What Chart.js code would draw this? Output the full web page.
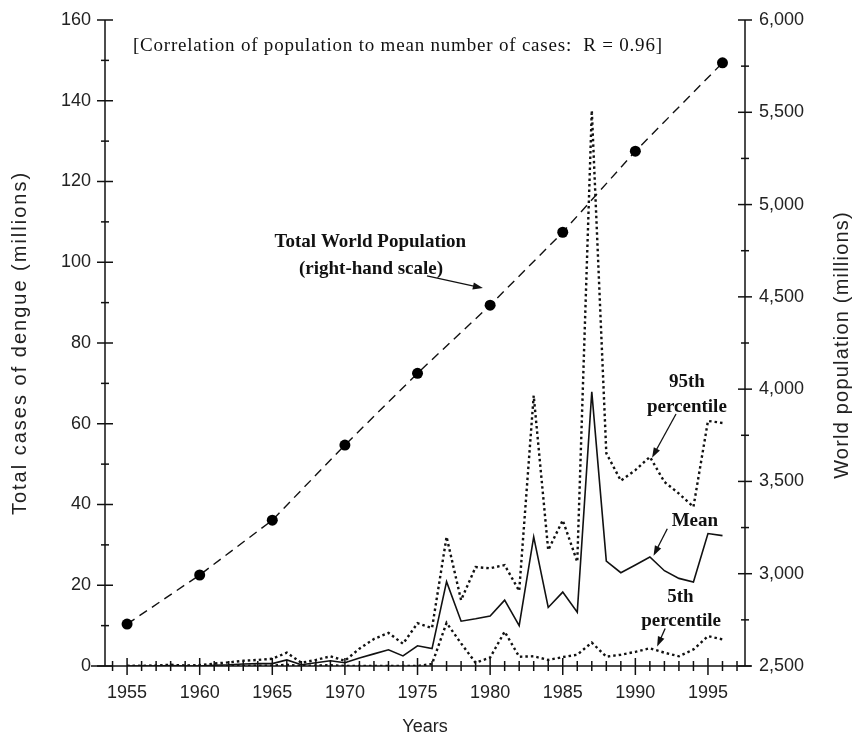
<!DOCTYPE html>
<html>
<head>
<meta charset="utf-8">
<script src="https://cdn.jsdelivr.net/npm/chart.js@4/dist/chart.umd.min.js"></script>
<style>
  html, body { margin: 0; padding: 0; background: #fff; }
  canvas { display: block; }
</style>
</head>
<body>
<canvas id="dengueChart" width="855" height="743"></canvas>
<script>
// yearly series, 1955-1996 (millions of cases)
const years = [1955, 1956, 1957, 1958, 1959, 1960, 1961, 1962, 1963, 1964,
  1965, 1966, 1967, 1968, 1969, 1970, 1971, 1972, 1973, 1974,
  1975, 1976, 1977, 1978, 1979, 1980, 1981, 1982, 1983, 1984,
  1985, 1986, 1987, 1988, 1989, 1990, 1991, 1992, 1993, 1994,
  1995, 1996];
const meanCases = [0, 0, 0, 0.1, 0, 0, 0.2, 0.3, 0.5, 0.6,
  0.6, 1.5, 0.3, 0.8, 1.3, 0.8, 2.0, 3.0, 4.0, 2.5,
  5.0, 4.3, 20.9, 11.1, 11.7, 12.4, 16.3, 10.0, 32.0, 14.5,
  18.3, 13.3, 67.9, 26.0, 23.1, 25.0, 27.0, 23.6, 21.7, 20.8,
  32.8, 32.3];
const p95Cases = [0, 0, 0.1, 0.3, 0.1, 0.2, 0.6, 0.9, 1.3, 1.5,
  1.8, 3.3, 0.8, 1.5, 2.4, 1.3, 4.3, 6.7, 8.2, 5.5,
  10.6, 9.4, 32.0, 16.3, 24.5, 24.2, 25.0, 18.6, 67.0, 28.7,
  36.1, 25.8, 137.6, 52.7, 45.9, 48.5, 51.8, 45.6, 42.7, 39.4,
  60.7, 60.2];
const p5Cases = [0, 0, 0, 0, 0, 0, 0, 0, 0, 0.1,
  0.1, 0.3, 0, 0.1, 0.2, 0, 0, 0, 0, 0,
  0, 0.5, 10.7, 5.6, 0.8, 2.1, 8.5, 2.3, 2.4, 1.5,
  2.2, 2.8, 5.8, 2.3, 2.8, 3.5, 4.4, 3.3, 2.4, 4.1,
  7.4, 6.6];

// world population (millions), right-hand scale
const popYears = [1955, 1960, 1965, 1970, 1975, 1980, 1985, 1990, 1996];
const population = [2727, 2993, 3290, 3697, 4086, 4455, 4850, 5289, 5768];

const yearTicks = [1955, 1960, 1965, 1970, 1975, 1980, 1985, 1990, 1995];

const pairs = (xs, ys) => xs.map((x, i) => ({ x, y: ys[i] }));

const INK = "#111";
const LABEL = "#222";
const SANS = "'Liberation Sans', Arial, sans-serif";
const SERIF = "'Liberation Serif', 'Times New Roman', serif";

function arrow(ctx, x1, y1, x2, y2) {
    const ang = Math.atan2(y2 - y1, x2 - x1);
    const c = Math.cos(ang), s = Math.sin(ang);
    ctx.beginPath();
    ctx.moveTo(x1, y1);
    ctx.lineTo(x2 - 7 * c, y2 - 7 * s);
    ctx.stroke();
    ctx.beginPath();
    ctx.moveTo(x2, y2);
    ctx.lineTo(x2 - 10 * c + 3.5 * s, y2 - 10 * s - 3.5 * c);
    ctx.lineTo(x2 - 10 * c - 3.5 * s, y2 - 10 * s + 3.5 * c);
    ctx.closePath();
    ctx.fill();
}

function verticalTitle(ctx, text, cx, cy, spacing) {
    ctx.save();
    ctx.fillStyle = LABEL;
    ctx.font = "20px " + SANS;
    ctx.letterSpacing = spacing;
    ctx.textAlign = "center";
    ctx.textBaseline = "middle";
    ctx.translate(cx, cy);
    ctx.rotate(-Math.PI / 2);
    ctx.fillText(text, 0, 0);
    ctx.restore();
}

// axis lines with ticks crossing the axis, like the original
const axesPlugin = {
    id: "crossTicks",
    afterDraw(chart) {
        const { ctx, chartArea: a, scales } = chart;
        const { x, y, y2 } = scales;
        const seg = (x1, y1, x2, y2_) => {
            ctx.beginPath(); ctx.moveTo(x1, y1); ctx.lineTo(x2, y2_); ctx.stroke();
        };
        ctx.save();
        ctx.strokeStyle = INK;
        ctx.lineWidth = 1.5;
        seg(a.left - 14, a.bottom, a.right + 6, a.bottom);
        seg(a.left, a.top, a.left, a.bottom);
        seg(a.right, a.top, a.right, a.bottom);

        for (let yr = 1954; yr <= 1997; yr++) {
            const px = x.getPixelForValue(yr);
            const big = yr % 5 === 0;
            seg(px, a.bottom - (big ? 8 : 5), px, a.bottom + (big ? 9 : 5));
        }
        for (let v = 0; v <= 160; v += 10) {
            const py = y.getPixelForValue(v);
            const len = v % 20 === 0 ? 8 : 4;
            seg(a.left - len, py, a.left + len, py);
        }
        for (let v = 2500; v <= 6000; v += 250) {
            const py = y2.getPixelForValue(v);
            const len = v % 500 === 0 ? 7 : 4;
            seg(a.right - len, py, a.right + len, py);
        }
        ctx.restore();

        const midY = (a.top + a.bottom) / 2;
        verticalTitle(ctx, "Total cases of dengue (millions)", 20, midY, "2px");
        verticalTitle(ctx, "World population (millions)", 842, midY + 2, "1.2px");

        // annotations placed in data coordinates
        const px = v => x.getPixelForValue(v);
        const py = v => y.getPixelForValue(v);
        ctx.save();
        ctx.fillStyle = INK;
        ctx.strokeStyle = INK;
        ctx.lineWidth = 1.3;
        ctx.textBaseline = "middle";

        ctx.font = "19px " + SERIF;
        ctx.letterSpacing = "0.8px";
        ctx.textAlign = "left";
        ctx.fillText("[Correlation of population to mean number of cases:  R = 0.96]", px(1955.4), py(153.6));
        ctx.letterSpacing = "0px";

        ctx.font = "bold 19px " + SERIF;
        ctx.textAlign = "center";
        ctx.fillText("Total World Population", px(1971.75), py(104.9));
        ctx.fillText("(right-hand scale)", px(1971.8), py(98.4));
        arrow(ctx, px(1975.65), py(96.6), px(1979.5), py(93.6));

        ctx.fillText("95th", px(1993.55), py(70.2));
        ctx.fillText("percentile", px(1993.55), py(64.2));
        arrow(ctx, px(1992.8), py(62.4), px(1991.15), py(51.6));

        ctx.fillText("Mean", px(1994.1), py(35.9));
        arrow(ctx, px(1992.2), py(34.0), px(1991.25), py(27.3));

        ctx.fillText("5th", px(1993.1), py(17.1));
        ctx.fillText("percentile", px(1993.15), py(11.0));
        arrow(ctx, px(1992.05), py(9.3), px(1991.5), py(4.8));
        ctx.restore();
    }
};

const tickFont = { family: SANS, size: 18 };

new Chart(document.getElementById("dengueChart"), {
    type: "line",
    data: {
        datasets: [{
            label: "95th percentile",
            data: pairs(years, p95Cases),
            borderColor: INK,
            borderWidth: 2.4,
            borderDash: [2.5, 3],
            pointRadius: 0,
            yAxisID: "y"
        }, {
            label: "5th percentile",
            data: pairs(years, p5Cases),
            borderColor: INK,
            borderWidth: 2.4,
            borderDash: [2.5, 3],
            pointRadius: 0,
            yAxisID: "y"
        }, {
            label: "Mean",
            data: pairs(years, meanCases),
            borderColor: INK,
            borderWidth: 1.6,
            pointRadius: 0,
            yAxisID: "y"
        }, {
            label: "Total World Population",
            data: pairs(popYears, population),
            borderColor: INK,
            borderWidth: 1.4,
            borderDash: [9, 6],
            pointRadius: 5.5,
            pointBorderWidth: 0,
            pointBackgroundColor: "#000",
            yAxisID: "y2"
        }]
    },
    options: {
        responsive: false,
        animation: false,
        layout: { padding: { top: 20, left: 0, right: 0, bottom: 0 } },
        plugins: {
            legend: { display: false },
            tooltip: { enabled: false }
        },
        scales: {
            x: {
                type: "linear",
                min: 1953.48,
                max: 1997.55,
                afterBuildTicks: s => { s.ticks = yearTicks.map(v => ({ value: v })); },
                afterFit: s => { s.height = 77; },
                grid: { display: false, drawTicks: true, tickLength: 16 },
                border: { display: false },
                ticks: { color: LABEL, font: tickFont, padding: 0, maxRotation: 0, callback: v => String(v) },
                title: { display: true, text: "Years", color: LABEL, font: tickFont, padding: { top: 0, bottom: 5 } }
            },
            y: {
                position: "left",
                min: 0,
                max: 160,
                afterFit: s => { s.width = 105; },
                grid: { display: false, drawTicks: true, tickLength: 14 },
                border: { display: false },
                ticks: { stepSize: 20, color: LABEL, font: tickFont, padding: 0 }
            },
            y2: {
                position: "right",
                min: 2500,
                max: 6000,
                afterFit: s => { s.width = 110; },
                grid: { display: false, drawTicks: true, tickLength: 14 },
                border: { display: false },
                ticks: { stepSize: 500, color: LABEL, font: tickFont, padding: 0, callback: v => v.toLocaleString("en-US") }
            }
        }
    },
    plugins: [axesPlugin]
});
</script>
</body>
</html>
